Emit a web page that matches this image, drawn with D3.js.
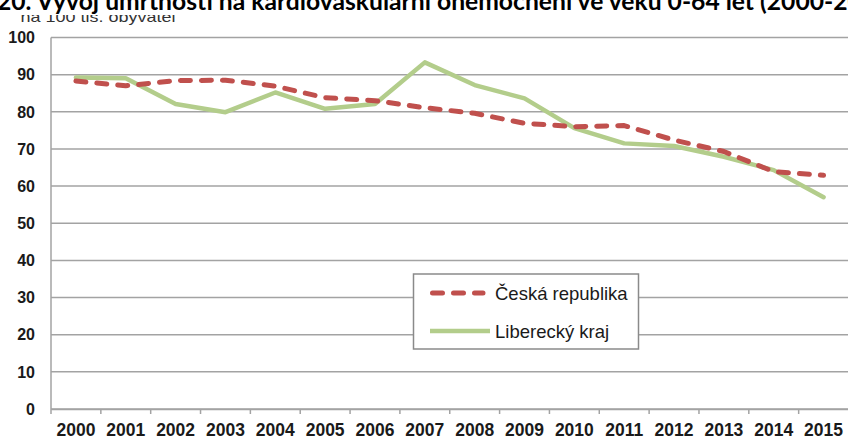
<!DOCTYPE html>
<html>
<head>
<meta charset="utf-8">
<script src="https://cdn.jsdelivr.net/npm/d3@7"></script>
<style>
  html, body { margin: 0; padding: 0; background: #fff; overflow: hidden; }
  svg { display: block; }
</style>
</head>
<body>
<svg id="chart"></svg>
<script>
// data
var years = ["2000", "2001", "2002", "2003", "2004", "2005", "2006", "2007",
             "2008", "2009", "2010", "2011", "2012", "2013", "2014", "2015"];
var ceskaRepublika = [88.3, 87.0, 88.4, 88.5, 86.9, 83.8, 83.0, 81.1,
                      79.6, 76.9, 76.0, 76.3, 72.4, 69.3, 63.9, 62.9];
var libereckyKraj = [89.2, 89.0, 82.1, 79.9, 85.2, 80.8, 82.1, 93.3,
                     87.2, 83.6, 75.6, 71.5, 70.8, 67.9, 64.3, 57.0];
var yTicks = [0, 10, 20, 30, 40, 50, 60, 70, 80, 90, 100];
var seriesNames = ["Česká republika", "Liberecký kraj"];
var titleText = "20. Vývoj úmrtnosti na kardiovaskulární onemocnění ve věku 0-64 let (2000-2015)";
var titleVisible = "20. Vývoj úmrtnosti na kardiovaskulární onemocnění ve věku 0-64 let (2000-2";
var unitText = "na 100 tis. obyvatel";

var W = 848, H = 439;
var red = "#c0504d", green = "#b3cd8b", grid = "#a3a3a3";

var svg = d3.select("#chart").attr("width", W).attr("height", H);

// scales
var x = d3.scaleBand().domain(years).range([51, 848.5]).padding(0);
var y = d3.scaleLinear().domain([0, 100]).range([409, 37.5]);
var cx = function(d, i) { return x(years[i]) + x.bandwidth() / 2; };

// subtitle (top is hidden under title strip)
svg.append("text")
    .attr("x", 20.5).attr("y", 22)
    .attr("font-family", "Liberation Sans, Arial, sans-serif")
    .attr("font-size", 15)
    .attr("fill", "#333")
    .attr("textLength", 155).attr("lengthAdjust", "spacingAndGlyphs")
    .text(unitText);

svg.append("rect").attr("x", 0).attr("y", 0).attr("width", W).attr("height", 15).attr("fill", "#fff");

// title, cropped at the top like in the source picture
var title = svg.append("text")
    .attr("font-family", "Lato, 'Open Sans', sans-serif")
    .attr("font-weight", "bold")
    .attr("font-size", 20)
    .attr("fill", "#000")
    .text(titleVisible);
var fScale = 851 / title.node().getComputedTextLength();
title.attr("font-size", 20 * fScale).attr("x", -3).attr("y", 10).text(titleText);

// gridlines
svg.append("g")
    .selectAll("line")
    .data(yTicks)
    .enter()
    .append("line")
    .attr("x1", 51).attr("x2", 848.5)
    .attr("y1", d => y(d)).attr("y2", d => y(d))
    .attr("stroke", grid).attr("stroke-width", 1.5);

// y axis
svg.append("line")
    .attr("x1", 51).attr("x2", 51).attr("y1", y(100)).attr("y2", y(0))
    .attr("stroke", grid).attr("stroke-width", 1.5);

svg.append("g")
    .selectAll("text")
    .data(yTicks)
    .enter()
    .append("text")
    .attr("x", 35).attr("y", d => y(d))
    .attr("dy", "0.36em")
    .attr("text-anchor", "end")
    .attr("font-family", "Liberation Sans, Arial, sans-serif")
    .attr("font-weight", "bold")
    .attr("font-size", 16)
    .attr("fill", "#1a1a1a")
    .text(d => d);

// x axis
var xAxis = svg.append("g")
    .attr("transform", `translate(0, ${y(0)})`)
    .call(d3.axisBottom(x).tickSize(0).tickPadding(0).tickFormat(""));
xAxis.select(".domain").attr("stroke", grid).attr("stroke-width", 1.5);

svg.append("g")
    .selectAll("line")
    .data(years)
    .enter()
    .append("line")
    .attr("x1", d => x(d)).attr("x2", d => x(d))
    .attr("y1", y(0)).attr("y2", y(0) + 5)
    .attr("stroke", grid).attr("stroke-width", 1.5);

svg.append("g")
    .selectAll("text")
    .data(years)
    .enter()
    .append("text")
    .attr("x", d => x(d) + x.bandwidth() / 2)
    .attr("y", 436)
    .attr("text-anchor", "middle")
    .attr("font-family", "Liberation Sans, Arial, sans-serif")
    .attr("font-weight", "bold")
    .attr("font-size", 17.5)
    .attr("fill", "#1a1a1a")
    .text(d => d);

// lines
var line = d3.line().x(cx).y(d => y(d));

svg.append("path")
    .datum(libereckyKraj)
    .attr("d", line)
    .attr("fill", "none")
    .attr("stroke", green)
    .attr("stroke-width", 4.5)
    .attr("stroke-linejoin", "round")
    .attr("stroke-linecap", "round");

svg.append("path")
    .datum(ceskaRepublika)
    .attr("d", line)
    .attr("fill", "none")
    .attr("stroke", red)
    .attr("stroke-width", 5)
    .attr("stroke-dasharray", "10,11")
    .attr("stroke-linejoin", "round")
    .attr("stroke-linecap", "round");

// legend
var legend = svg.append("g");
legend.append("rect")
    .attr("x", 413.5).attr("y", 274).attr("width", 225).attr("height", 75)
    .attr("fill", "#fff").attr("stroke", "#8a8a8a").attr("stroke-width", 1.5);

var items = legend.selectAll("g.item")
    .data(seriesNames)
    .enter()
    .append("g")
    .attr("transform", (d, i) => `translate(0, ${i ? 331 : 293})`);

items.append("line")
    .attr("x1", (d, i) => i ? 430 : 432.5)
    .attr("x2", (d, i) => i ? 490 : 483)
    .attr("y1", 0).attr("y2", 0)
    .attr("stroke", (d, i) => i ? green : red)
    .attr("stroke-width", (d, i) => i ? 4.5 : 5)
    .attr("stroke-linecap", (d, i) => i ? "butt" : "round")
    .attr("stroke-dasharray", (d, i) => i ? null : "10,11");

items.append("text")
    .attr("x", 495)
    .attr("y", 0)
    .attr("dy", "0.36em")
    .attr("font-family", "Liberation Sans, Arial, sans-serif")
    .attr("font-size", 18.5)
    .attr("fill", "#1a1a1a")
    .text(d => d);
</script>
</body>
</html>
